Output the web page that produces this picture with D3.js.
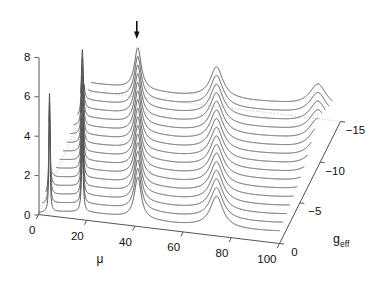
<!DOCTYPE html>
<html>
<head>
<meta charset="utf-8">
<script src="https://cdn.jsdelivr.net/npm/d3@7"></script>
<style>
  body { margin: 0; background: #fff; }
  text { font-family: "Liberation Sans", Arial, sans-serif; fill: #111; }
</style>
</head>
<body>
<div id="wrapper"></div>
<script>

// data

const gEff = [0, -1, -2, -3, -4, -5, -6, -7, -8, -9, -10, -11, -12, -13, -14, -15];
// how far the resonances have moved to lower mu on each slice
const peakShift = [0, 1.69, 3.37, 5.06, 6.75, 8.44, 10.12, 11.81, 13.5, 15.19, 16.87, 18.56, 20.25, 21.94, 23.62, 25.31];
// mu range drawn for each slice
const muFrom = [0, -0.2, -0.5, -0.7, -0.9, -1.2, -1.4, -1.6, -1.8, -2.1, -2.3, -2.5, -2.8, -3.0, -3.2, -3.5];
const muTo = [100, 99.8, 99.6, 99.3, 99.1, 98.9, 98.7, 98.5, 98.2, 98.0, 97.8, 97.6, 97.4, 97.1, 96.9, 96.7];

// resonances of the front slice (g_eff = 0)
const peakMu = [4.56, 18.2, 41.2, 73.9, 116.0];
const peakHeight = [4.7, 3.0, 2.1, 1.58, 1.18];
const peakWidth = [0.3, 0.45, 1.7, 3.2, 4.2];

// level between the peaks
const bgMu = [0, 5, 11, 22, 30, 57, 80, 100, 125];
const bgVal = [0.08, 0.2, 0.3, 0.4, 0.4, 0.36, 0.44, 0.55, 0.6];

const zTicks = [0, 2, 4, 6, 8];
const muTicks = [0, 20, 40, 60, 80, 100];
const gTicks = [0, -5, -10, -15];

function drawWaterfall() {

  // dimensions

  const dms = {
    width: 382,
    height: 285,
    origin: { x: 38.5, y: 214.5 }
  };

  const svg = d3.select("#wrapper")
    .append("svg")
      .attr("width", dms.width)
      .attr("height", dms.height)
      .style("display", "block");

  // scales of the oblique projection

  const xMu = d3.scaleLinear().domain([0, 100]).range([0, 241]);
  const yMu = d3.scaleLinear().domain([0, 100]).range([0, 29]);
  const xG = d3.scaleLinear().domain([0, -15]).range([0, 61]);
  const yG = d3.scaleLinear().domain([0, -15]).range([0, -122]);
  const zScale = d3.scaleLinear().domain([0, 8]).range([0, -157.6]);
  const background = d3.scaleLinear().domain(bgMu).range(bgVal).clamp(true);

  const project = (mu, g, z) => [
    dms.origin.x + xMu(mu) + xG(g),
    dms.origin.y + yMu(mu) + yG(g) + zScale(z)
  ];

  const spectrum = (mu, shift) => {
    const m = mu + shift;
    let s = background(m);
    peakMu.forEach((p, i) => {
      const d = (m - p) / peakWidth[i];
      s += peakHeight[i] / (1 + d * d);
    });
    return s;
  };

  const line = d3.line();

  // slices, back to front, each one hiding what is behind it

  const slices = svg.append("g");

  d3.range(gEff.length - 1, -1, -1).forEach(k => {
    const g = gEff[k];
    const lo = muFrom[k], hi = muTo[k];
    const mus = d3.range(lo, hi, 0.05).concat([hi]);
    peakMu.forEach(p => {
      const c = p - peakShift[k];
      if (c > lo && c < hi) mus.push(c);
    });
    mus.sort((a, b) => a - b);

    const pts = mus.map(mu => project(mu, g, spectrum(mu, peakShift[k])));
    const floor = [project(hi, g, 0), project(lo, g, 0)];

    slices.append("path")
      .attr("d", line(pts.concat(floor)) + "Z")
      .attr("fill", "#fff")
      .attr("stroke", "none");

    slices.append("path")
      .attr("d", line(pts))
      .attr("fill", "none")
      .attr("stroke", "#505050")
      .attr("stroke-width", 1);
  });

  // dotted floor edges

  const last = gEff.length - 1;
  svg.append("path")
    .attr("d", line([
      project(muFrom[0], gEff[0], 0),
      project(muFrom[last], gEff[last], 0),
      project(100, gEff[last], 0)
    ]))
    .attr("fill", "none")
    .attr("stroke", "#aaa")
    .attr("stroke-width", 0.8)
    .attr("stroke-dasharray", "1,2");

  // z axis

  const zAxisScale = d3.scaleLinear()
    .domain([0, 8])
    .range([dms.origin.y, dms.origin.y + zScale(8)]);

  const zAxis = svg.append("g")
    .attr("transform", `translate(${dms.origin.x},0)`)
    .call(d3.axisLeft(zAxisScale)
      .tickValues(zTicks)
      .tickSize(4)
      .tickSizeOuter(0)
      .tickPadding(4));

  zAxis.selectAll("path, line").attr("stroke", "#555");
  zAxis.selectAll("text")
    .style("font-family", "'Liberation Sans', Arial, sans-serif")
    .style("font-size", "11.5px")
    .attr("fill", "#111");

  // mu axis

  const axes = svg.append("g")
    .attr("stroke", "#555")
    .attr("stroke-width", 1)
    .attr("fill", "none");

  axes.append("path")
    .attr("d", line([project(0, 0, 0), project(100, 0, 0)]));

  muTicks.forEach(t => {
    const [x, y] = project(t, 0, 0);
    axes.append("path").attr("d", line([[x, y], [x - 2.2, y + 4.4]]));
    svg.append("text")
      .attr("x", x - 3)
      .attr("y", y + 15.5)
      .attr("dy", "0.35em")
      .attr("text-anchor", "end")
      .style("font-size", "11.5px")
      .text(t);
  });

  svg.append("text")
    .attr("x", 100)
    .attr("y", 263)
    .attr("text-anchor", "middle")
    .style("font-size", "12px")
    .text("μ");

  // g_eff axis

  axes.append("path")
    .attr("d", line([project(100, 0, 0), project(100, -15, 0)]));

  gTicks.forEach(t => {
    const [x, y] = project(100, t, 0);
    axes.append("path").attr("d", line([[x, y], [x + 4.5, y + 0.5]]));
    svg.append("text")
      .attr("x", x + 15)
      .attr("y", y + 8.5)
      .attr("dy", "0.35em")
      .attr("text-anchor", "middle")
      .style("font-size", "11.5px")
      .text(t === 0 ? "0" : "\u2212" + Math.abs(t));
  });

  const gLabel = svg.append("text")
    .attr("x", 333)
    .attr("y", 243)
    .style("font-size", "12.5px")
    .text("g");
  gLabel.append("tspan")
    .attr("dy", 4)
    .style("font-size", "8.5px")
    .text("eff");

  // arrow over the third resonance

  const ax = project(peakMu[2], 0, 0)[0] - 1;
  svg.append("line")
    .attr("x1", ax).attr("x2", ax)
    .attr("y1", 21).attr("y2", 33)
    .attr("stroke", "#111")
    .attr("stroke-width", 1.6);
  svg.append("path")
    .attr("d", line([[ax - 2.8, 31.5], [ax + 2.8, 31.5], [ax, 39]]) + "Z")
    .attr("fill", "#111");
}

drawWaterfall();
</script>
</body>
</html>
